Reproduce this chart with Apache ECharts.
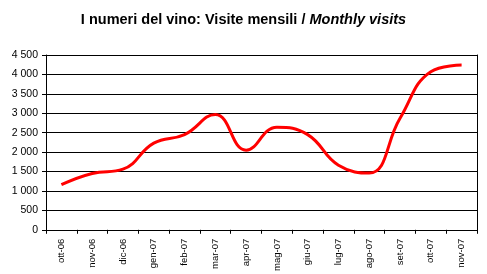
<!DOCTYPE html>
<html>
<head>
<meta charset="utf-8">
<script src="https://cdn.jsdelivr.net/npm/echarts@6/dist/echarts.min.js"></script>
<style>html,body{margin:0;padding:0;background:#fff}#c{width:487px;height:274px}</style>
</head>
<body>
<div id="c"></div>
<script>
var categories = ['ott-06','nov-06','dic-06','gen-07','feb-07','mar-07','apr-07','mag-07','giu-07','lug-07','ago-07','set-07','ott-07','nov-07'];
var visits = [1160, 1450, 1560, 2230, 2450, 2970, 2050, 2640, 2450, 1660, 1460, 2870, 4070, 4240];
var yMin = 0, yMax = 4500, yStep = 500;

var chart = echarts.init(document.getElementById('c'), null, {renderer: 'canvas'});
function fmt(v){ return String(v).replace(/\B(?=(\d{3})+(?!\d))/g, ' '); }
chart.setOption({
  animation: false,
  backgroundColor: '#fff',
  title: {
    left: 'center', top: 7,
    text: '{a|I numeri del vino: Visite mensili / }{b|Monthly visits}',
    textStyle: {
      rich: {
        a: {fontFamily: 'Liberation Sans, Arial', fontWeight: 'bold', fontSize: 14.5, color: '#000'},
        b: {fontFamily: 'Liberation Sans, Arial', fontWeight: 'bold', fontStyle: 'italic', fontSize: 14.5, color: '#000'}
      }
    }
  },
  grid: {left: 46, right: 10, top: 55, bottom: 43, containLabel: false},
  xAxis: {
    type: 'category', data: categories, boundaryGap: true,
    axisLine: {lineStyle: {color: '#000', width: 1}},
    axisTick: {show: true, length: 4, lineStyle: {color: '#000'}},
    axisLabel: {rotate: 90, fontSize: 9.5, fontFamily: 'Liberation Sans, Arial', color: '#000', margin: 9, interval: 0}
  },
  yAxis: [{
    type: 'value', min: yMin, max: yMax, interval: yStep,
    axisLine: {show: true, lineStyle: {color: '#000', width: 1}},
    axisTick: {show: true, length: 4, lineStyle: {color: '#000'}},
    splitLine: {show: true, lineStyle: {color: '#000', width: 1}},
    axisLabel: {fontSize: 10.5, fontFamily: 'Liberation Sans, Arial', color: '#000', margin: 8, formatter: fmt}
  }, {
    type: 'value', min: yMin, max: yMax, interval: yStep, position: 'right',
    axisLine: {show: true, lineStyle: {color: '#000', width: 1}},
    axisTick: {show: false}, axisLabel: {show: false}, splitLine: {show: false}
  }],
  series: [{
    type: 'line', data: visits, smooth: 0.45, showSymbol: false, symbol: 'none',
    lineStyle: {color: '#ff0000', width: 3}
  }]
});
</script>
</body>
</html>
